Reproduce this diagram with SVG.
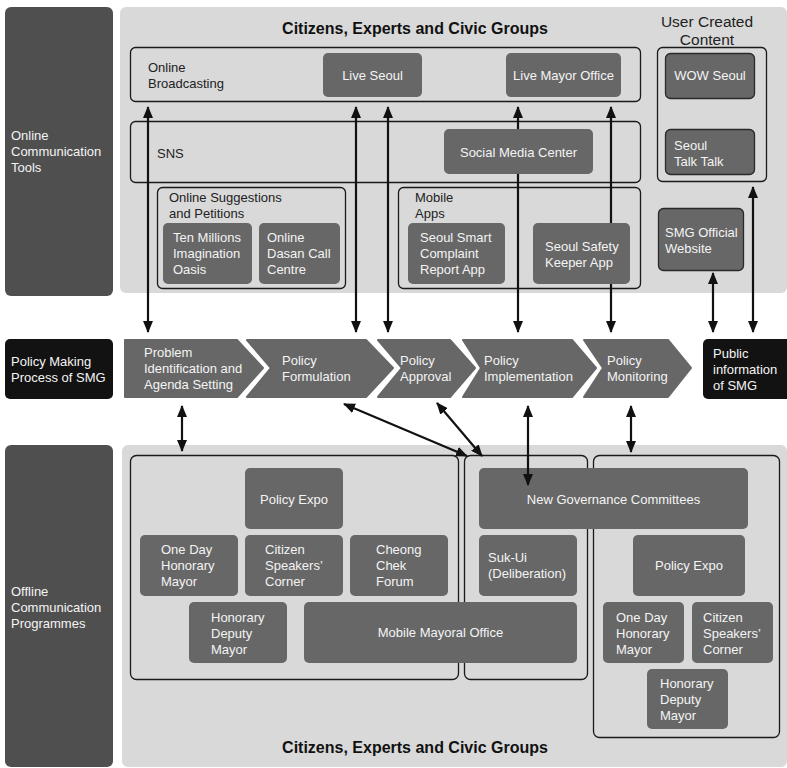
<svg xmlns="http://www.w3.org/2000/svg" width="787" height="768" viewBox="0 0 787 768">
<style>
text{font-family:"Liberation Sans",Arial,Helvetica,sans-serif;font-size:13px;fill:#222}
.w{fill:#f4f4f4}
.c{text-anchor:middle}
.h{font-size:16px;font-weight:bold;fill:#111}
.side{fill:#4f4f4f}
.blk{fill:#121212}
.bg{fill:#d9d9d9}
.ol{fill:none;stroke:#1a1a1a;stroke-width:1.3}
.fb{fill:#676767}
.fbs{fill:#676767;stroke:#2a2a2a;stroke-width:1.3}
.chev{fill:#676767;stroke:#676767;stroke-width:2;stroke-linejoin:round}
.ar{stroke:#111;stroke-width:2.2;fill:none;marker-start:url(#ah);marker-end:url(#ah)}
</style>
<defs>
<marker id="ah" viewBox="0 0 12 10" refX="11" refY="5" markerWidth="12" markerHeight="10" markerUnits="userSpaceOnUse" orient="auto-start-reverse">
<path d="M0,0 L12,5 L0,10 z" fill="#111"/>
</marker>
</defs>
<rect width="787" height="768" fill="#ffffff"/>

<!-- Left column -->
<g id="online-tools">
<rect class="side" x="5" y="7" width="108" height="289" rx="6"/>
<text class="w" x="11" y="140">Online</text>
<text class="w" x="11" y="156">Communication</text>
<text class="w" x="11" y="172">Tools</text>
</g>
<g id="policy-making-process">
<rect class="blk" x="5" y="339" width="108" height="60" rx="5"/>
<text class="w" x="11" y="366">Policy Making</text>
<text class="w" x="11" y="382">Process of SMG</text>
</g>
<g id="offline-programmes">
<rect class="side" x="5" y="445" width="108" height="322" rx="6"/>
<text class="w" x="11" y="596">Offline</text>
<text class="w" x="11" y="612">Communication</text>
<text class="w" x="11" y="628">Programmes</text>
</g>

<!-- Top panel -->
<g id="top-panel">
<rect class="bg" x="120" y="7" width="667" height="286" rx="6"/>
<text class="h c" x="415" y="34">Citizens, Experts and Civic Groups</text>
<text class="c" x="707" y="27" style="font-size:15.5px">User Created</text>
<text class="c" x="707" y="45" style="font-size:15.5px">Content</text>
</g>
<g id="online-broadcasting">
<rect class="ol" x="130.5" y="47.5" width="510" height="54" rx="5"/>
<text x="148" y="72">Online</text>
<text x="148" y="88">Broadcasting</text>
</g>
<g id="sns">
<rect class="ol" x="130.5" y="121.5" width="510" height="61" rx="5"/>
<text x="157" y="158">SNS</text>
</g>
<g id="online-suggestions">
<rect class="ol" x="157.5" y="187.5" width="188" height="101" rx="5"/>
<text x="169" y="202">Online Suggestions</text>
<text x="169" y="218">and Petitions</text>
</g>
<g id="mobile-apps">
<rect class="ol" x="398.5" y="187.5" width="242" height="101" rx="5"/>
<text x="415" y="202">Mobile</text>
<text x="415" y="218">Apps</text>
</g>
<g id="ucc">
<rect class="ol" x="657.5" y="47.5" width="109" height="134" rx="5"/>
</g>

<g id="live-seoul">
<rect class="fb" x="323" y="53" width="99" height="44" rx="5"/>
<text class="w c" x="372.5" y="80">Live Seoul</text>
</g>
<g id="live-mayor-office">
<rect class="fb" x="506" y="53" width="115" height="44" rx="5"/>
<text class="w c" x="563.5" y="80">Live Mayor Office</text>
</g>
<g id="ten-millions">
<rect class="fb" x="163" y="223" width="89" height="61" rx="5"/>
<text class="w" x="173" y="242">Ten Millions</text>
<text class="w" x="173" y="258">Imagination</text>
<text class="w" x="173" y="274">Oasis</text>
</g>
<g id="online-dasan">
<rect class="fb" x="259" y="223" width="81" height="61" rx="5"/>
<text class="w" x="267" y="242">Online</text>
<text class="w" x="267" y="258">Dasan Call</text>
<text class="w" x="267" y="274">Centre</text>
</g>
<g id="seoul-smart">
<rect class="fb" x="408" y="223" width="97" height="61" rx="5"/>
<text class="w" x="420" y="242">Seoul Smart</text>
<text class="w" x="420" y="258">Complaint</text>
<text class="w" x="420" y="274">Report App</text>
</g>
<g id="wow-seoul">
<rect class="fbs" x="665.5" y="53.5" width="89" height="45" rx="5"/>
<text class="w c" x="710" y="80">WOW Seoul</text>
</g>
<g id="seoul-talk-talk">
<rect class="fbs" x="665.5" y="129.5" width="89" height="45" rx="5"/>
<text class="w" x="674" y="150">Seoul</text>
<text class="w" x="674" y="166">Talk Talk</text>
</g>
<g id="smg-website">
<rect class="fbs" x="658.5" y="208.5" width="85" height="62" rx="5"/>
<text class="w" x="665" y="237">SMG Official</text>
<text class="w" x="665" y="253">Website</text>
</g>

<!-- Process chevrons -->
<g id="step-problem">
<polygon class="chev" points="125,340 237,340 263,368 237,397 125,397"/>
<text class="w" x="144" y="357">Problem</text>
<text class="w" x="144" y="373">Identification and</text>
<text class="w" x="144" y="389">Agenda Setting</text>
</g>
<g id="step-formulation">
<polygon class="chev" points="247,340 366,340 393,368 366,397 247,397 271,368"/>
<text class="w" x="282" y="365">Policy</text>
<text class="w" x="282" y="381">Formulation</text>
</g>
<g id="step-approval">
<polygon class="chev" points="378,340 450,340 475,368 450,397 378,397 402,368"/>
<text class="w" x="400" y="365">Policy</text>
<text class="w" x="400" y="381">Approval</text>
</g>
<g id="step-implementation">
<polygon class="chev" points="463,340 572,340 596,368 572,397 463,397 481,368"/>
<text class="w" x="484" y="365">Policy</text>
<text class="w" x="484" y="381">Implementation</text>
</g>
<g id="step-monitoring">
<polygon class="chev" points="584,340 668,340 691,368 668,397 584,397 603,368"/>
<text class="w" x="607" y="365">Policy</text>
<text class="w" x="607" y="381">Monitoring</text>
</g>
<g id="public-info">
<rect class="blk" x="703" y="339" width="90" height="60" rx="5"/>
<text class="w" x="713" y="358">Public</text>
<text class="w" x="713" y="374">information</text>
<text class="w" x="713" y="390">of SMG</text>
</g>

<!-- Bottom panel -->
<g id="bottom-panel">
<rect class="bg" x="122" y="445" width="665" height="322" rx="6"/>
<text class="h c" x="415" y="753">Citizens, Experts and Civic Groups</text>
</g>
<g id="offline-left">
<rect class="ol" x="130.5" y="455.5" width="328" height="224" rx="6"/>
</g>
<g id="offline-middle">
<rect class="ol" x="464.5" y="455.5" width="123" height="224" rx="6"/>
</g>
<g id="offline-right">
<rect class="ol" x="593.5" y="455.5" width="186" height="282" rx="6"/>
</g>
<g id="policy-expo-1">
<rect class="fb" x="245" y="468" width="98" height="61" rx="5"/>
<text class="w c" x="294" y="504">Policy Expo</text>
</g>
<g id="one-day-mayor-1">
<rect class="fb" x="140" y="535" width="98" height="61" rx="5"/>
<text class="w" x="161" y="554">One Day</text>
<text class="w" x="161" y="570">Honorary</text>
<text class="w" x="161" y="586">Mayor</text>
</g>
<g id="speakers-corner-1">
<rect class="fb" x="245" y="535" width="98" height="61" rx="5"/>
<text class="w" x="265" y="554">Citizen</text>
<text class="w" x="265" y="570">Speakers’</text>
<text class="w" x="265" y="586">Corner</text>
</g>
<g id="cheong-chek">
<rect class="fb" x="350" y="535" width="98" height="61" rx="5"/>
<text class="w" x="376" y="554">Cheong</text>
<text class="w" x="376" y="570">Chek</text>
<text class="w" x="376" y="586">Forum</text>
</g>
<g id="deputy-mayor-1">
<rect class="fb" x="189" y="602" width="98" height="61" rx="5"/>
<text class="w" x="211" y="622">Honorary</text>
<text class="w" x="211" y="638">Deputy</text>
<text class="w" x="211" y="654">Mayor</text>
</g>
<g id="mobile-mayoral">
<rect class="fb" x="304" y="602" width="273" height="61" rx="5"/>
<text class="w c" x="440.5" y="637">Mobile Mayoral Office</text>
</g>
<g id="new-governance">
<rect class="fb" x="479" y="468" width="269" height="61" rx="5"/>
<text class="w c" x="613.5" y="504">New Governance Committees</text>
</g>
<g id="suk-ui">
<rect class="fb" x="479" y="535" width="98" height="61" rx="5"/>
<text class="w" x="488" y="562">Suk-Ui</text>
<text class="w" x="488" y="578">(Deliberation)</text>
</g>
<g id="policy-expo-2">
<rect class="fb" x="633" y="535" width="112" height="61" rx="5"/>
<text class="w c" x="689" y="570">Policy Expo</text>
</g>
<g id="one-day-mayor-2">
<rect class="fb" x="603" y="602" width="81" height="61" rx="5"/>
<text class="w" x="616" y="622">One Day</text>
<text class="w" x="616" y="638">Honorary</text>
<text class="w" x="616" y="654">Mayor</text>
</g>
<g id="speakers-corner-2">
<rect class="fb" x="692" y="602" width="81" height="61" rx="5"/>
<text class="w" x="703" y="622">Citizen</text>
<text class="w" x="703" y="638">Speakers’</text>
<text class="w" x="703" y="654">Corner</text>
</g>
<g id="deputy-mayor-2">
<rect class="fb" x="647" y="669" width="81" height="60" rx="5"/>
<text class="w" x="660" y="688">Honorary</text>
<text class="w" x="660" y="704">Deputy</text>
<text class="w" x="660" y="720">Mayor</text>
</g>

<!-- Connectors -->
<g id="connectors">
<line class="ar" x1="148" y1="107" x2="148" y2="332"/>
<line class="ar" x1="356" y1="107" x2="356" y2="332"/>
<line class="ar" x1="388" y1="107" x2="388" y2="332"/>
<line class="ar" x1="518" y1="107" x2="518" y2="332"/>
<line class="ar" x1="611" y1="107" x2="611" y2="332"/>
<line class="ar" x1="713" y1="273" x2="713" y2="332"/>
<line class="ar" x1="753" y1="187" x2="753" y2="332"/>
<line class="ar" x1="182" y1="406" x2="182" y2="451"/>
<line class="ar" x1="344" y1="404" x2="467" y2="456"/>
<line class="ar" x1="437" y1="403" x2="482" y2="456"/>
<line class="ar" x1="528" y1="406" x2="528" y2="485"/>
<line class="ar" x1="631" y1="406" x2="631" y2="452"/>
</g>

<!-- Boxes drawn over connectors -->
<g id="social-media-center">
<rect class="fb" x="444" y="129" width="149" height="45" rx="5"/>
<text class="w c" x="518.5" y="157">Social Media Center</text>
</g>
<g id="seoul-safety">
<rect class="fb" x="533" y="223" width="97" height="61" rx="5"/>
<text class="w" x="545" y="251">Seoul Safety</text>
<text class="w" x="545" y="267">Keeper App</text>
</g>
</svg>
